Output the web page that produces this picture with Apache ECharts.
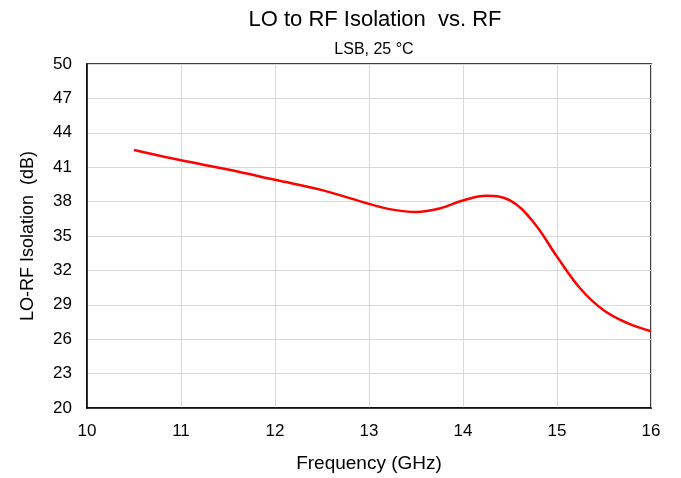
<!DOCTYPE html>
<html><head><meta charset="utf-8">
<script src="https://cdn.jsdelivr.net/npm/echarts@6/dist/echarts.min.js"></script>
<style>html,body{margin:0;padding:0;background:#fff}#c{width:681px;height:478px}</style>
</head><body><div id="c"></div>
<script>
var freq = [10.5, 11.0, 11.5, 12.0, 12.5, 13.0, 13.25, 13.5, 13.75, 14.0, 14.25, 14.5, 14.75, 15.0, 15.25, 15.5, 15.75, 16.0];
var isolation = [42.5, 41.6, 40.8, 39.9, 39.0, 37.8, 37.3, 37.1, 37.4, 38.1, 38.5, 38.1, 36.2, 33.2, 30.4, 28.5, 27.4, 26.7];
var yTicks = [20, 23, 26, 29, 32, 35, 38, 41, 44, 47, 50];
var xTicks = [10, 11, 12, 13, 14, 15, 16];

var font = 'Liberation Sans, Arial, sans-serif';
var chart = echarts.init(document.getElementById('c'));
chart.setOption({
  animation: false,
  title: [
    {text: 'LO to RF Isolation  vs. RF', left: 370, top: 4, textAlign: 'center',
     textStyle: {fontFamily: font, fontSize: 22, fontWeight: 'normal', color: '#000'}},
    {text: 'LSB, 25 °C', left: 369, top: 37, textAlign: 'center',
     textStyle: {fontFamily: font, fontSize: 16, fontWeight: 'normal', color: '#000'}}
  ],
  grid: {left: 87, right: 30, top: 64, bottom: 69, show: true, borderColor: '#000', borderWidth: 1.5},
  xAxis: {
    type: 'value', min: xTicks[0], max: xTicks[xTicks.length - 1], interval: 1,
    name: 'Frequency (GHz)', nameLocation: 'middle', nameGap: 46,
    nameTextStyle: {fontFamily: font, fontSize: 19, color: '#000'},
    axisLine: {show: true, lineStyle: {color: '#000', width: 1.5}},
    axisTick: {show: false},
    axisLabel: {fontFamily: font, fontSize: 17, color: '#000', margin: 15},
    splitLine: {show: true, lineStyle: {color: '#d9d9d9', width: 1}}
  },
  yAxis: {
    type: 'value', min: yTicks[0], max: yTicks[yTicks.length - 1], interval: 3,
    name: 'LO-RF Isolation  (dB)', nameLocation: 'middle', nameGap: 50,
    nameTextStyle: {fontFamily: font, fontSize: 18, color: '#000'},
    axisLine: {show: true, lineStyle: {color: '#000', width: 1.5}},
    axisTick: {show: false},
    axisLabel: {fontFamily: font, fontSize: 17, color: '#000', margin: 15},
    splitLine: {show: true, lineStyle: {color: '#d9d9d9', width: 1}}
  },
  series: [{
    type: 'line', smooth: 0.4, showSymbol: false,
    data: freq.map(function (f, i) { return [f, isolation[i]]; }),
    lineStyle: {color: '#ff0000', width: 2.5}
  }]
});
</script></body></html>
